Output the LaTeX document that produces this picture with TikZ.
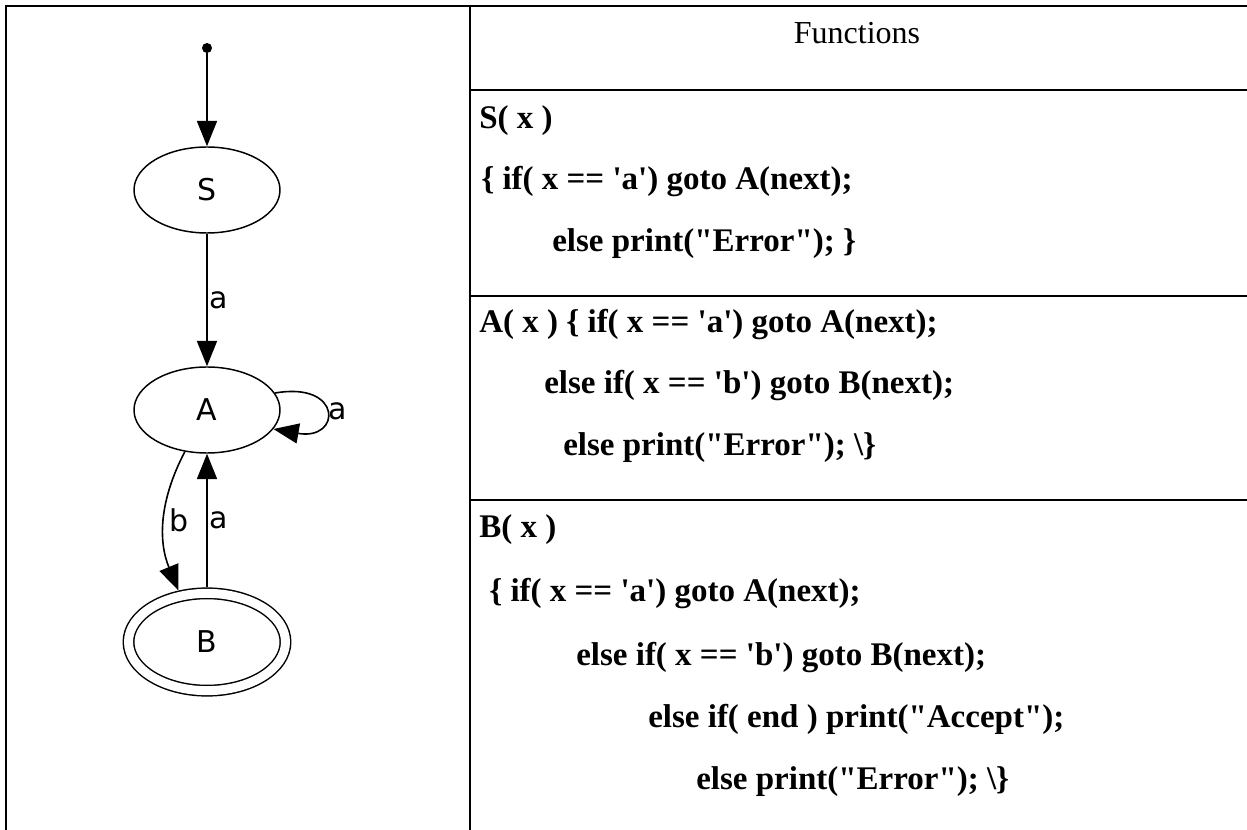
\documentclass[tikz,border=0pt]{standalone}
\usepackage{fontspec}
\setmainfont{Liberation Serif}[Ligatures=TeXOff]
\newfontfamily\dotfont{DejaVu Sans}
\usepackage{tikz}
\usetikzlibrary{arrows.meta}
\usetikzlibrary{shapes.geometric}

\tikzset{
    state/.style={ellipse, draw, line width=1.1pt, inner sep=0pt,
        minimum width=109.5pt, minimum height=64.5pt,
        font={\dotfont\fontsize{22.5}{27}\selectfont}},
    accepting/.style={double, double distance=6.75pt,
        minimum width=117.75pt, minimum height=73pt, outer sep=4.5pt},
    trans/.style={line width=1.2pt, -{Triangle[length=19pt,width=15pt]}},
    lbl/.style={inner sep=1.5pt, font={\dotfont\fontsize{22.5}{27}\selectfont}},
    codeline/.style={anchor=base west, inner sep=0pt,
        font={\fontsize{24.75}{30}\selectfont\bfseries}},
    rule/.style={line width=1pt}
}

\begin{document}
\begin{tikzpicture}[x=0.75pt,y=-0.75pt]
    \useasboundingbox (0,0) rectangle (1247,830);

    \draw[rule] (6,830) -- (6,6) -- (1247,6);
    \draw[rule] (470,6) -- (470,830);
    \draw[rule] (470,90) -- (1247,90);
    \draw[rule] (470,296) -- (1247,296);
    \draw[rule] (470,500) -- (1247,500);

    \node[circle, fill, inner sep=0pt, minimum size=7.5pt] (start) at (207,48) {};
    \node[state] (S) at (207,190) {S};
    \node[state] (A) at (207,410) {A};
    \node[state, accepting] (B) at (207,642) {B};

    \draw[trans] (start) -- (S);
    \draw[trans] (S) -- node[lbl, right] {a} (A);
    \draw[trans] (A.14) to[out=10, in=-10, distance=52pt] node[lbl, right] {a} (A.-16);
    \draw[trans] (A.-118) to[bend right=25] node[lbl, right, inner sep=3pt] {b} (B.119);
    \draw[trans] (B) -- node[lbl, right] {a} (A);

    \node[anchor=base, font={\fontsize{24}{29}\selectfont}] (head) at (857,44) {Functions};

    \node[codeline] (s1) at (479,129) {S( x )};
    \node[codeline] (s2) at (481,190) {\{ if( x == 'a') goto A(next);};
    \node[codeline] (s3) at (552,252) {else print("Error"); \}};

    \node[codeline] (a1) at (479,333) {A( x ) \{ if( x == 'a') goto A(next);};
    \node[codeline] (a2) at (544,394) {else if( x == 'b') goto B(next);};
    \node[codeline] (a3) at (563,456) {else print("Error"); \textbackslash\}};

    \node[codeline] (b1) at (479,538) {B( x )};
    \node[codeline] (b2) at (489,602) {\{ if( x == 'a') goto A(next);};
    \node[codeline] (b3) at (576,665) {else if( x == 'b') goto B(next);};
    \node[codeline] (b4) at (648,727) {else if( end ) print("Accept");};
    \node[codeline] (b5) at (696,789) {else print("Error"); \textbackslash\}};
\end{tikzpicture}
\end{document}
